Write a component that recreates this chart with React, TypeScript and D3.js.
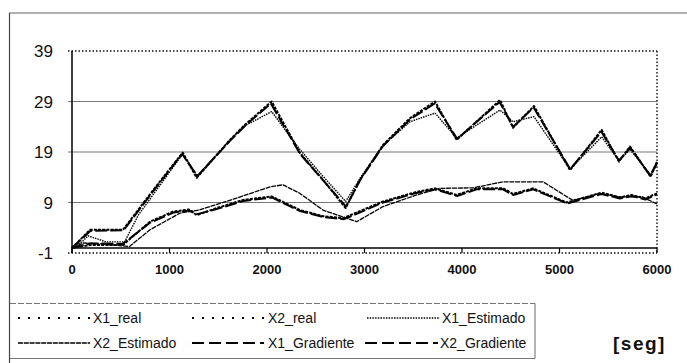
import React from "react";
import * as d3 from "d3";

type Pt = [number, number];

// time [s] and state values for each series
const x1Real: Pt[] = [
  [0, 0], [185, 3.6], [523, 3.6], [831, 11.4], [1135, 18.9], [1279, 13.9], [1620, 21.4], [1774, 24.4],
  [2048, 29], [2338, 18.8], [2574, 13.5], [2807, 7.9], [2954, 13.5], [3190, 20.4], [3467, 25.7],
  [3723, 29], [3945, 21.4], [4390, 29.3], [4523, 23.8], [4738, 28.1], [5108, 15.4], [5432, 23.4],
  [5610, 17.1], [5723, 20.1], [5935, 14.1], [6000, 17.1],
];
const x2Real: Pt[] = [
  [0, 0], [200, 0.6], [523, 0.6], [800, 5.2], [1036, 7.2], [1200, 7.6], [1279, 6.5], [1484, 7.9],
  [1754, 9.5], [2048, 10.2], [2338, 7.5], [2574, 6.3], [2780, 5.9], [3190, 9.2], [3535, 11.1],
  [3723, 11.8], [3945, 10.5], [4150, 11.8], [4421, 11.8], [4523, 10.7], [4728, 11.8], [5074, 9.0],
  [5432, 10.95], [5620, 10.0], [5740, 10.5], [5877, 9.8], [6000, 10.8],
];
const x1Estimado: Pt[] = [
  [0, 0], [100, 1.2], [165, 2.4], [350, 1.2], [540, 1.2], [680, 6.5], [1135, 18.6], [1285, 14.3],
  [1620, 21.3], [1774, 24.2], [2048, 27], [2338, 19.5], [2574, 14.2], [2807, 9.2], [2954, 13.8],
  [3190, 20.3], [3467, 25.0], [3723, 26.7], [3945, 21.8], [4390, 27.3], [4523, 25], [4738, 26],
  [5108, 15.6], [5432, 22], [5610, 17.3], [5723, 19.5], [5935, 14.5], [6000, 16.5],
];
const x2Estimado: Pt[] = [
  [0, 0], [120, 1.0], [300, 0.8], [590, 0.3], [800, 3.6], [1108, 6.9], [1300, 7.5], [1600, 9.3],
  [2031, 12.1], [2164, 12.5], [2338, 10.8], [2574, 7.5], [2920, 5.2], [3190, 8.2], [3535, 10.5],
  [3774, 11.8], [4113, 11.9], [4421, 13.1], [4831, 13.1], [5138, 9.4], [5415, 10.8], [5620, 10.1],
  [5850, 10.1], [6000, 8.7],
];
const x1Gradiente: Pt[] = [
  [0, 0], [190, 3.4], [530, 3.5], [831, 11.2], [1130, 18.6], [1285, 14.2], [1620, 21.2], [1780, 24.3],
  [2040, 28.6], [2340, 18.6], [2580, 13.3], [2810, 8.2], [2960, 13.6], [3190, 20.2], [3470, 25.5],
  [3720, 28.6], [3950, 21.6], [4385, 28.9], [4525, 24.0], [4735, 27.8], [5110, 15.6], [5430, 23.0],
  [5610, 17.3], [5725, 19.9], [5930, 14.3], [6000, 16.9],
];
const x2Gradiente: Pt[] = [
  [0, 0], [190, 0.9], [520, 0.8], [800, 5.0], [1040, 7.0], [1200, 7.4], [1285, 6.7], [1484, 7.7],
  [1754, 9.3], [2050, 10.0], [2340, 7.3], [2580, 6.1], [2790, 5.7], [3190, 9.0], [3530, 10.9],
  [3725, 11.6], [3950, 10.3], [4150, 11.6], [4420, 11.6], [4525, 10.5], [4730, 11.6], [5080, 8.8],
  [5430, 10.7], [5620, 9.8], [5745, 10.3], [5880, 9.6], [6000, 10.6],
];

const yTicks = [-1, 9, 19, 29, 39];
const xTicks = [0, 1000, 2000, 3000, 4000, 5000, 6000];
const seriesNames = ["X1_real", "X2_real", "X1_Estimado", "X2_Estimado", "X1_Gradiente", "X2_Gradiente"];
const unitLabel = "[seg]";

const W = 687;
const H = 363;
const FONT = "Arial, 'Liberation Sans', Helvetica, sans-serif";

const x = d3.scaleLinear().domain([0, 6000]).range([72, 657]);
const y = d3.scaleLinear().domain([-1, 39]).range([253, 51]);

// stroke patterns: legend samples, and the denser traces drawn in the plot
const styles: Record<string, { dash: string; width: number; plotDash: string; plotWidth: number }> = {
  X1_real: { dash: "2,8", width: 2, plotDash: "3,1.2", plotWidth: 2 },
  X2_real: { dash: "2,8", width: 2, plotDash: "3,1.2", plotWidth: 2 },
  X1_Estimado: { dash: "1.5,1.2", width: 1.4, plotDash: "1.5,1", plotWidth: 1.4 },
  X2_Estimado: { dash: "5,0.8", width: 1.3, plotDash: "5,0.8", plotWidth: 1.3 },
  X1_Gradiente: { dash: "12,5", width: 2, plotDash: "12,3", plotWidth: 2 },
  X2_Gradiente: { dash: "12,5", width: 2, plotDash: "12,3", plotWidth: 2 },
};

const data: Record<string, Pt[]> = {
  X1_real: x1Real,
  X2_real: x2Real,
  X1_Estimado: x1Estimado,
  X2_Estimado: x2Estimado,
  X1_Gradiente: x1Gradiente,
  X2_Gradiente: x2Gradiente,
};

const line = d3
  .line<Pt>()
  .x((d) => x(d[0]))
  .y((d) => y(d[1]));

// legend layout: [sample start, sample end, text x, row y]
const legendPos: Record<string, [number, number, number, number]> = {
  X1_real: [18, 90, 93, 318],
  X2_real: [192, 266, 268, 318],
  X1_Estimado: [367, 440, 442, 318],
  X2_Estimado: [18, 90, 93, 343],
  X1_Gradiente: [192, 264, 268, 343],
  X2_Gradiente: [365, 438, 440, 343],
};

export default function App() {
  const [x0, x1] = x.range();
  const [yb, yt] = y.range();
  return (
    <svg
      width={W}
      height={H}
      style={{ position: "absolute", left: 0, top: 0, background: "#fff" }}
      fontFamily={FONT}
    >
      {/* outer frame */}
      <line x1={9} x2={W} y1={13} y2={13} stroke="#666" strokeWidth={1.2} />
      <line x1={9.5} x2={9.5} y1={13} y2={H} stroke="#444" strokeWidth={1.2} />

      {/* gridlines */}
      {yTicks.map((t) => {
        const edge = t === -1 || t === 39;
        return (
          <line
            key={"g" + t}
            x1={x0 - 4}
            x2={x1}
            y1={y(t)}
            y2={y(t)}
            stroke={edge ? "#111" : "#777"}
            strokeWidth={edge ? 1.4 : 1}
            strokeDasharray={edge ? "1.5,2" : undefined}
          />
        );
      })}
      <line x1={x1} x2={x1} y1={yt} y2={yb} stroke="#111" strokeWidth={1.4} strokeDasharray="1.5,2" />

      {/* axes */}
      <line x1={x0} x2={x0} y1={yt} y2={yb} stroke="#000" strokeWidth={1.5} />
      <line x1={x0} x2={x1} y1={y(0)} y2={y(0)} stroke="#000" strokeWidth={1.5} />
      {xTicks.map((t) => (
        <line key={"xt" + t} x1={x(t)} x2={x(t)} y1={y(0)} y2={y(0) + 5} stroke="#000" strokeWidth={1.2} />
      ))}

      {/* tick labels */}
      {yTicks.map((t) => (
        <text key={"yl" + t} x={53} y={y(t)} dy="0.36em" textAnchor="end" fontSize={17} fill="#111">
          {t}
        </text>
      ))}
      {xTicks.map((t) => (
        <text key={"xl" + t} x={x(t)} y={269} dy="0.36em" textAnchor="middle" fontSize={13} fontWeight="bold" fill="#111">
          {t}
        </text>
      ))}

      {/* series */}
      {seriesNames.map((n) => (
        <path
          key={n}
          d={line(data[n]) || ""}
          fill="none"
          stroke="#000"
          strokeWidth={styles[n].plotWidth}
          strokeDasharray={styles[n].plotDash}
          strokeLinejoin="round"
        />
      ))}

      {/* legend */}
      <line x1={10} x2={535} y1={303.5} y2={303.5} stroke="#777" strokeWidth={1} strokeDasharray="6,2" />
      <line x1={10} x2={535} y1={358.5} y2={358.5} stroke="#777" strokeWidth={1} />
      <line x1={535} x2={535} y1={303.5} y2={358.5} stroke="#666" strokeWidth={1} />
      {seriesNames.map((n) => {
        const [s0, s1, tx, ty] = legendPos[n];
        return (
          <g key={"lg" + n}>
            <line
              x1={s0}
              x2={s1}
              y1={ty}
              y2={ty}
              stroke="#000"
              strokeWidth={styles[n].width}
              strokeDasharray={styles[n].dash}
            />
            <text x={tx} y={ty} dy="0.36em" fontSize={14} fill="#111">
              {n}
            </text>
          </g>
        );
      })}

      <text x={613} y={343} dy="0.36em" fontSize={19} fontWeight="bold" letterSpacing={1.5} fill="#111">
        {unitLabel}
      </text>
    </svg>
  );
}
